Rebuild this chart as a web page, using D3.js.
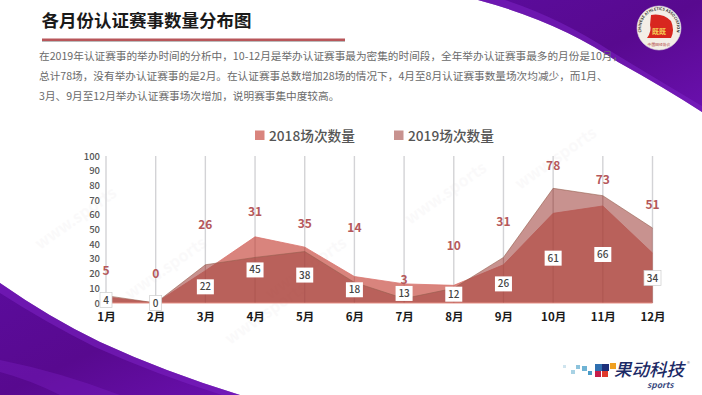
<!DOCTYPE html>
<html><head><meta charset="utf-8">
<script src="https://cdn.jsdelivr.net/npm/d3@7/dist/d3.min.js"></script>
<style>html,body{margin:0;padding:0;background:#fff;overflow:hidden}svg{display:block}
text{font-family:"Noto Sans CJK SC","Noto Sans",sans-serif}</style></head>
<body><svg id="c" width="702" height="395"></svg>
<script>
const months=["1月","2月","3月","4月","5月","6月","7月","8月","9月","10月","11月","12月"];
const values2018=[4,0,22,45,38,18,13,12,26,61,66,34];
const values2019=[5,0,26,31,35,14,3,10,31,78,73,51];
const label2019Levels=[22,20,53,62,54,51,16,39,55,93,84,67];
const yTicks=[0,10,20,30,40,50,60,70,80,90,100];
const seriesNames=["2018场次数量","2019场次数量"];
const titleText="各月份认证赛事数量分布图";
const bodyLines=[
"在2019年认证赛事的举办时间的分析中，10-12月是举办认证赛事最为密集的时间段，全年举办认证赛事最多的月份是10月，",
"总计78场，没有举办认证赛事的是2月。在认证赛事总数增加28场的情况下，4月至8月认证赛事数量场次均减少，而1月、",
"3月、9月至12月举办认证赛事场次增加，说明赛事集中度较高。"];

const svg=d3.select("#c");
const defs=svg.append("defs");
const g1=defs.append("linearGradient").attr("id","pur").attr("x1",0).attr("y1",0).attr("x2",1).attr("y2",1);
g1.append("stop").attr("offset","0").attr("stop-color","#5b0c9c");
g1.append("stop").attr("offset","0.5").attr("stop-color","#58098f");
g1.append("stop").attr("offset","1").attr("stop-color","#6a10ae");

// background swooshes
svg.append("path").attr("d","M478,0 Q560,22 618,62 Q665,88 702,112 L702,0 Z").attr("fill","url(#pur)");
svg.append("path").attr("d","M478,0 Q560,22 618,62 Q665,88 702,112 L702,106 Q655,78 612,52 Q560,18 505,0 Z").attr("fill","#7a1fc0").attr("opacity",.6);
svg.append("path").attr("d","M0,283 Q50,318 100,342 Q165,372 240,395 L0,395 Z").attr("fill","url(#pur)");
svg.append("path").attr("d","M0,283 Q50,318 100,342 Q165,372 240,395 L222,395 Q155,374 95,347 Q45,322 0,293 Z").attr("fill","#7a1fc0").attr("opacity",.6);
svg.append("path").attr("d","M0,360 Q60,372 120,395 L60,395 Q30,380 0,372 Z").attr("fill","#7a1fc0").attr("opacity",.4);

// watermarks
[[40,250],[130,300],[230,345],[410,225],[520,190],[270,300]].forEach((p,i)=>{
  svg.append("text").attr("transform",`translate(${p[0]},${p[1]}) rotate(-35)`)
   .attr("font-size",16).attr("font-weight",600).attr("fill","#8a7a80").attr("opacity",.035).text("www.sports");
});

// heading
svg.append("text").attr("x",41.5).attr("y",27).attr("font-size",17.5).attr("font-weight",700).attr("fill","#1a1a1a").text(titleText);
svg.append("rect").attr("x",42).attr("y",38.5).attr("width",303).attr("height",2.5).attr("fill","#b8565a");
svg.append("rect").attr("x",42).attr("y",41).attr("width",303).attr("height",1).attr("fill","#bbb");
svg.selectAll("text.body").data(bodyLines).join("text").attr("class","body")
  .attr("x",39).attr("y",(d,i)=>60+i*20).attr("font-size",10.65).attr("fill","#6a6a6a").text(d=>d);

// scales
const x=d3.scalePoint().domain(months).range([106,652.5]);
const y=d3.scaleLinear().domain([0,100]).range([303,156]);

// legend
const legendX=[255,394];
const legendColors=["#d9847d","#c8928f"];
seriesNames.forEach((n,i)=>{
  svg.append("rect").attr("x",legendX[i]).attr("y",130.5).attr("width",9.5).attr("height",9.5).attr("fill",legendColors[i]);
  svg.append("text").attr("x",legendX[i]+14).attr("y",140.5).attr("font-size",13.7).attr("font-weight",500).attr("fill","#555").text(n);
});

// gridlines
svg.append("g").selectAll("line").data(months).join("line")
  .attr("x1",d=>x(d)).attr("x2",d=>x(d)).attr("y1",156).attr("y2",303)
  .attr("stroke","#d3d3d6").attr("stroke-width",1.4);

// areas
const area=d3.area().x((d,i)=>x(months[i])).y0(y(0)).y1(d=>y(d));
const line=d3.line().x((d,i)=>x(months[i])).y(d=>y(d));
svg.append("path").attr("d",area(values2018)).attr("fill","#d0655d").attr("fill-opacity",.8);
svg.append("path").attr("d",line(values2018)).attr("fill","none").attr("stroke","#d9756e").attr("stroke-width",.8);
svg.append("path").attr("d",area(values2019)).attr("fill","#a34a45").attr("fill-opacity",.6);
svg.append("path").attr("d",line(values2019)).attr("fill","none").attr("stroke","#95604f").attr("stroke-width",.6);
svg.append("line").attr("x1",106).attr("x2",652.5).attr("y1",y(0)).attr("y2",y(0)).attr("stroke","#e58f86").attr("stroke-width",1.2);

// grid over areas faint
svg.append("g").selectAll("line").data(months).join("line")
  .attr("x1",d=>x(d)).attr("x2",d=>x(d)).attr("y1",(d,i)=>y(Math.max(values2018[i],values2019[i]))).attr("y2",303)
  .attr("stroke","#8f3f3c").attr("stroke-opacity",.2).attr("stroke-width",.8);

// y axis
const yAxis=svg.append("g").attr("transform","translate(100,0)")
  .call(d3.axisLeft(y).tickValues(yTicks).tickSize(0).tickPadding(0));
yAxis.select(".domain").remove();
yAxis.selectAll("text").attr("font-size",9.5).attr("font-weight",500).attr("fill","#555").attr("font-family",'"Noto Sans","Noto Sans CJK SC",sans-serif');

// x axis
const xAxis=svg.append("g").attr("transform","translate(0,313)")
  .call(d3.axisBottom(x).tickSize(0).tickPadding(0));
xAxis.select(".domain").remove();
xAxis.selectAll("text").attr("font-size",11.5).attr("font-weight",700).attr("fill","#1a1a1a").attr("font-family",'"Noto Sans CJK SC",sans-serif');

// value boxes 2018
const boxW=d=>d<10?12:17;
const boxes=svg.append("g").selectAll("g").data(values2018).join("g")
  .attr("transform",(d,i)=>`translate(${x(months[i])},${y(d/2)})`);
boxes.append("rect").attr("x",d=>-boxW(d)/2).attr("y",-7.5).attr("width",boxW).attr("height",15)
  .attr("fill","#fff").attr("stroke",(d,i)=>(d<5||i===11)?"#ccc":"none").attr("stroke-width",.7);
boxes.append("text").attr("text-anchor","middle").attr("dy","0.35em").attr("font-size",10).attr("font-weight",500)
  .attr("fill","#444").attr("font-family",'"Noto Sans",sans-serif').text(d=>d);

// labels 2019
svg.append("g").selectAll("text").data(values2019).join("text")
  .attr("x",(d,i)=>x(months[i])).attr("y",(d,i)=>y(label2019Levels[i]))
  .attr("text-anchor","middle").attr("dy","0.35em").attr("font-size",12).attr("font-weight",600)
  .attr("fill","#b5585a").attr("font-family",'"Noto Sans",sans-serif').text(d=>d);

// top logo
const logo=svg.append("g").attr("transform","translate(659,28)");
logo.append("circle").attr("r",22).attr("fill","#f3eee6").attr("stroke","#ddd").attr("stroke-width",.6);
logo.append("path").attr("d","M-8,-13 Q4,-15 12,-7 Q16,2 12,10 L-12,10 Q-7,3 -9,-3 Z").attr("fill","#d8261f");
logo.append("text").attr("text-anchor","middle").attr("y",6).attr("font-size",7).attr("font-weight",700).attr("fill","#f6d35a").text("既既");
defs.append("path").attr("id","arc").attr("d","M-17,6 A18,18 0 1 1 17,6");
logo.append("text").attr("font-size",3.8).attr("font-weight",700).attr("fill","#333")
  .append("textPath").attr("href","#arc").attr("startOffset","50%").attr("text-anchor","middle").text("CHINESE ATHLETICS ASSOCIATION");
logo.append("text").attr("text-anchor","middle").attr("y",18).attr("font-size",3.8).attr("fill","#a33").text("中国田径协会");

// bottom logo
const sq=[[563,365,"#cfe4ee",3],[571,370,"#a8d2e4",4],[576,365,"#8cc3dc",4],[582,366,"#6fb3d4",5],[588,371,"#4a9cc8",4],[595,364,"#2f6fb0",7],[602,364,"#1d2f7a",7],[595,371,"#c61e4a",6],[602,371,"#e0392b",6],[610,363,"#f0a020",6]];
svg.append("g").selectAll("rect").data(sq).join("rect").attr("x",d=>d[0]).attr("y",d=>d[1]).attr("width",d=>d[3]).attr("height",d=>d[3]).attr("fill",d=>d[2]);
svg.append("text").attr("x",614).attr("y",376).attr("font-size",17.5).attr("font-weight",500).attr("font-style","italic").attr("fill","#1c2a66").text("果动科技");
svg.append("text").attr("x",647).attr("y",388).attr("font-size",8.5).attr("font-weight",700).attr("font-style","italic").attr("fill","#3a4a80").attr("font-family",'"Noto Sans",sans-serif').text("sports");
svg.append("text").attr("x",687).attr("y",366).attr("font-size",6).attr("fill","#888").text("®");
</script></body></html>
